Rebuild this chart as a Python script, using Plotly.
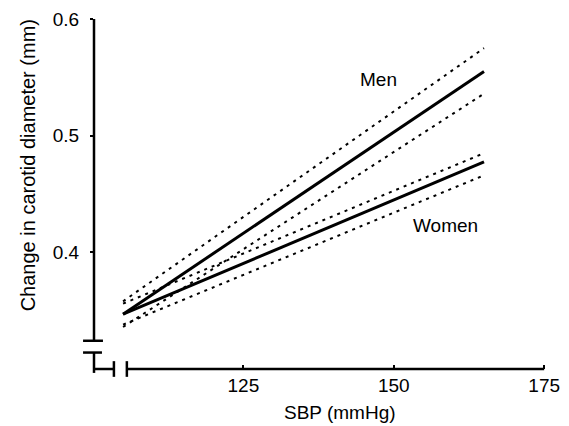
import plotly.graph_objects as go

# ---- data ----
sbp = [105, 165]
men_fit = [0.347, 0.555]
men_upper = [0.358, 0.575]
men_lower = [0.336, 0.536]
women_fit = [0.347, 0.4775]
women_upper = [0.356, 0.485]
women_lower = [0.338, 0.466]
x_ticks = [125, 150, 175]
y_ticks = [0.4, 0.5, 0.6]
labels = ["Men", "Women"]
label_x = [147.5, 158.6]
label_y = [0.548, 0.4227]

W, H = 569, 426
ML, MR, MT, MB = 94, 9, 12, 57
PW, PH = W - ML - MR, H - MT - MB
XR = [100.17, 177.3]
YR = [0.3, 0.6]
FONT = "Liberation Sans, Arial, sans-serif"


def fx(v):
    return (v - XR[0]) / (XR[1] - XR[0])


def fy(v):
    return (v - YR[0]) / (YR[1] - YR[0])


def px_x(p):
    return (p - ML) / PW


def px_y(p):
    return (H - MB - p) / PH


fig = go.Figure()
dash = "3px,5px"
for yv in (men_upper, men_lower, women_upper, women_lower):
    fig.add_trace(go.Scatter(x=sbp, y=yv, mode="lines",
                             line=dict(color="black", width=2, dash=dash),
                             hoverinfo="skip", showlegend=False))
for yv in (men_fit, women_fit):
    fig.add_trace(go.Scatter(x=sbp, y=yv, mode="lines",
                             line=dict(color="black", width=3),
                             hoverinfo="skip", showlegend=False))

lw = 2.5
shapes = []


def seg(x0, y0, x1, y1):
    shapes.append(dict(type="line", xref="paper", yref="paper",
                       x0=x0, y0=y0, x1=x1, y1=y1,
                       line=dict(color="black", width=lw)))


# y axis (upper part) with break cap
y_break_top = 0.3242
y_break_low = 0.3141
seg(fx(XR[0]), fy(0.6), fx(XR[0]), fy(y_break_top))
seg(px_x(83), fy(y_break_top), px_x(103), fy(y_break_top))
# y axis lower stub
seg(fx(XR[0]), fy(y_break_low), fx(XR[0]), px_y(373))
seg(px_x(83), fy(y_break_low), px_x(102), fy(y_break_low))
# x axis stub and break
seg(fx(XR[0]), fy(0.3), px_x(114), fy(0.3))
seg(px_x(114), px_y(361), px_x(114), px_y(377))
seg(px_x(127), px_y(361), px_x(127), px_y(377))
seg(px_x(127), fy(0.3), fx(175), fy(0.3))

annotations = []
for t, ax_, ay_ in zip(labels, label_x, label_y):
    annotations.append(dict(x=ax_, y=ay_, xref="x", yref="y", text=t,
                            xanchor="center", yanchor="middle",
                            showarrow=False, font=dict(size=19, color="black", family=FONT)))
annotations.append(dict(x=px_x(341), y=px_y(413), xref="paper", yref="paper",
                        text="SBP (mmHg)", showarrow=False,
                        xanchor="center", yanchor="middle",
                        font=dict(size=19, color="black", family=FONT)))
annotations.append(dict(x=px_x(28), y=px_y(161), xref="paper", yref="paper",
                        text="Change in carotid diameter (mm)", showarrow=False, textangle=-90,
                        xanchor="center", yanchor="middle",
                        font=dict(size=20, color="black", family=FONT)))

fig.update_layout(
    width=W, height=H,
    margin=dict(l=ML, r=MR, t=MT, b=MB, pad=0),
    paper_bgcolor="white", plot_bgcolor="white",
    font=dict(family=FONT, size=19, color="black"),
    shapes=shapes, annotations=annotations,
    xaxis=dict(range=XR, showgrid=False, zeroline=False, showline=False,
               tickvals=x_ticks, ticktext=[str(v) for v in x_ticks],
               ticks="inside", ticklen=4, tickwidth=2, tickcolor="black",
               ticklabelstandoff=3),
    yaxis=dict(range=YR, showgrid=False, zeroline=False, showline=False,
               tickvals=y_ticks, ticktext=[f"{v:.1f}" for v in y_ticks],
               ticks="outside", ticklen=3, tickwidth=2, tickcolor="black",
               ticklabelstandoff=7),
)
fig.write_html("out.html")
